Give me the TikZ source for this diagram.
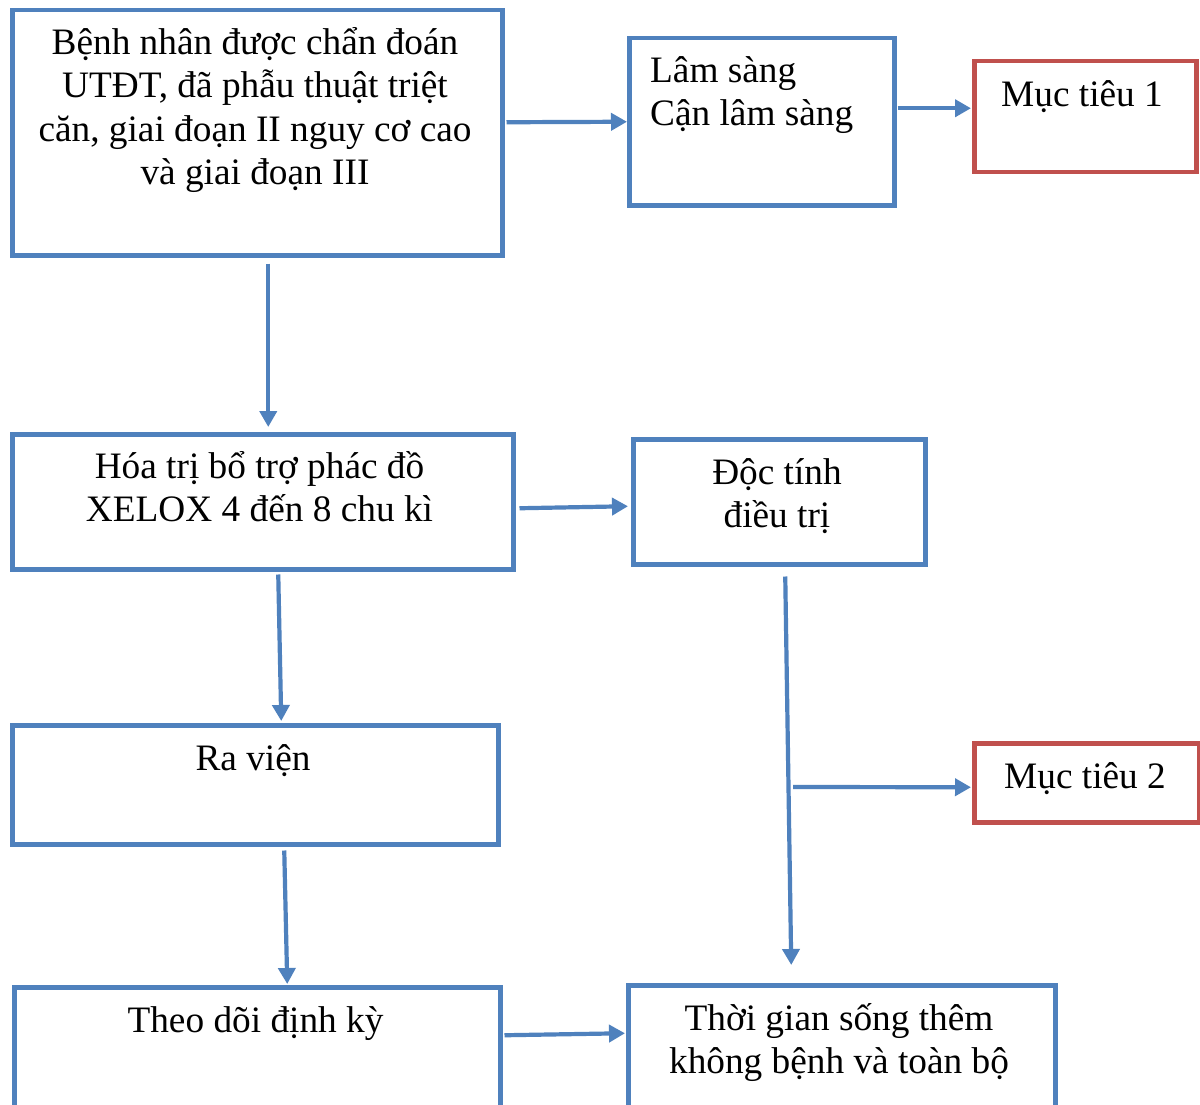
\documentclass[tikz,border=0pt]{standalone}
\usepackage{fontspec}
\setmainfont{Liberation Serif}
\usetikzlibrary{arrows.meta,calc}
\definecolor{bblue}{RGB}{79,129,189}
\definecolor{bred}{RGB}{192,80,77}
\newcommand\mystrut{\rule{0pt}{36pt}}
\tikzset{
  bx/.style={draw=bblue,line width=4.5pt,anchor=north west,inner sep=0pt,fill=white},
  rbx/.style={bx,draw=bred},
  txt/.style={font=\fontsize{37.3}{43.5}\selectfont,inner sep=0pt,anchor=north,align=center},
  arr/.style={draw=bblue,line width=4.2pt,-{Triangle[length=16pt,width=17pt]}}
}
\begin{document}
\begin{tikzpicture}[x=1pt,y=-1pt]
\useasboundingbox (0,0) rectangle (1200,1105);
\clip (0,0) rectangle (1200,1105);
\fill[white] (0,0) rectangle (1200,1105);
% boxes
\node[bx,minimum width=490pt,minimum height=245pt] (b1) at (10,8) {};
\node[bx,minimum width=265pt,minimum height=167pt] (ls) at (627,36) {};
\node[rbx,minimum width=222pt,minimum height=111pt] (mt1) at (972,59) {};
\node[bx,minimum width=501pt,minimum height=135pt] (ht) at (10,432) {};
\node[bx,minimum width=292pt,minimum height=125pt] (dt) at (631,437) {};
\node[bx,minimum width=486pt,minimum height=119pt] (rv) at (10,723) {};
\node[rbx,minimum width=225pt,minimum height=79pt] (mt2) at (972,741) {};
\node[bx,minimum width=486pt,minimum height=140pt] (td) at (12,985) {};
\node[bx,minimum width=427pt,minimum height=140pt] (tg) at (626,983) {};
% texts
\node[txt] (t1) at (255,18) {\mystrut Bệnh nhân được chẩn đoán\\UTĐT, đã phẫu thuật triệt\\căn, giai đoạn II nguy cơ cao\\và giai đoạn III};
\node[txt,anchor=north west,align=left] (t2) at (650,46) {\mystrut Lâm sàng\\Cận lâm sàng};
\node[txt] (t3) at (1082,70) {\mystrut Mục tiêu 1};
\node[txt] (t4) at (259.5,442) {\mystrut Hóa trị bổ trợ phác đồ\\XELOX 4 đến 8 chu kì};
\node[txt] (t5) at (777,448) {\mystrut Độc tính\\điều trị};
\node[txt] (t6) at (253,734) {\mystrut Ra viện};
\node[txt] (t7) at (1085,752) {\mystrut Mục tiêu 2};
\node[txt] (t8) at (255.5,996) {\mystrut Theo dõi định kỳ};
\node[txt] (t9) at (839,994) {\mystrut Thời gian sống thêm\\không bệnh và toàn bộ};
% connectors
\draw[arr] ($(b1.east)+(2,-10.5)$) -- (ls.west);
\draw[arr] ($(ls.east)+(1,-13.5)$) -- ($(mt1.west)+(-1,-8.5)$);
\draw[arr] ($(b1.south)+(11,6)$) -- ($(ht.north)+(5.5,-5)$);
\draw[arr] ($(ht.east)+(4,6.5)$) -- ($(dt.west)+(-3,4.5)$);
\draw[arr] ($(ht.south)+(15.5,3)$) -- ($(rv.north)+(26,-2)$);
\draw[arr] ($(dt.south)+(6,10)$) -- ($(tg.north)+(-50.5,-18)$);
\coordinate (br) at (793,787);
\draw[arr] (br) -- ($(mt2.west)+(-1,4.5)$);
\draw[arr] ($(rv.south)+(29,4)$) -- ($(td.north)+(30,-1)$);
\draw[arr] ($(td.east)+(2,-22)$) -- ($(tg.west)+(-1,-22)$);
\end{tikzpicture}
\end{document}
